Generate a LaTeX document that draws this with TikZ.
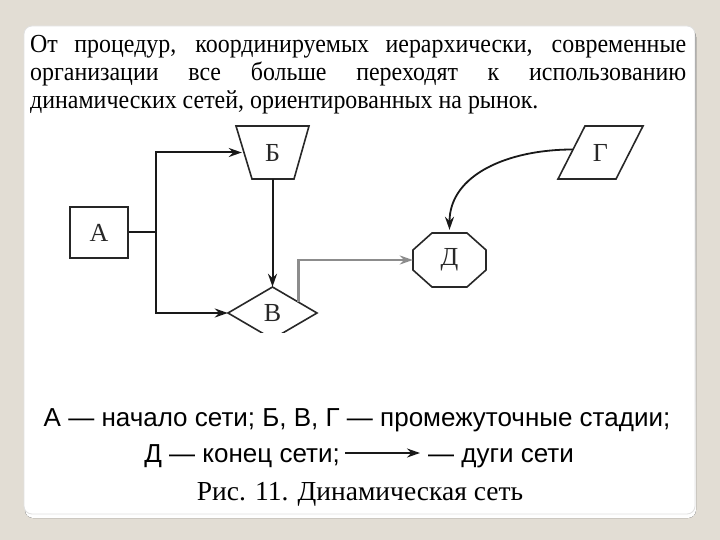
\documentclass[tikz,border=0pt]{standalone}
\usepackage{fontspec}
\setmainfont{Liberation Serif}
\setsansfont{Liberation Sans}
\newfontfamily\hdrfont{Liberation Serif}[FakeStretch=0.92]
\usetikzlibrary{arrows.meta,calc}
\definecolor{bgc}{RGB}{226,221,212}
\definecolor{shade}{RGB}{160,155,150}
\definecolor{ink}{RGB}{40,40,40}
\definecolor{glink}{RGB}{140,140,140}
\tikzset{
  arc/.style={line width=2bp, draw=black!90, -{Stealth[length=13bp,width=9bp]}},
  garc/.style={line width=2.5bp, draw=glink, -{Stealth[length=13bp,width=9bp,fill=black!85]}},
  outline/.style={line width=1.6bp, draw=ink},
  lbl/.style={inner sep=0, font=\fontsize{26bp}{26bp}\selectfont, text=ink},
  hdr/.style={anchor=base west, inner sep=0, font=\hdrfont\fontsize{26bp}{28bp}\selectfont},
  leg/.style={inner sep=0, font=\sffamily\fontsize{26bp}{28bp}\selectfont},
}
\begin{document}
\begin{tikzpicture}[x=1bp,y=-1bp]
\useasboundingbox (0,0) rectangle (720,540);
\fill[bgc] (0,0) rectangle (720,540);
\fill[shade, rounded corners=8bp] (25,29) rectangle (696,518);
\fill[white, rounded corners=8bp] (24,26) rectangle (695,514);
\draw[black!12, line width=0.8bp, rounded corners=8bp] (24,26) rectangle (695,514);

% header text
\node[hdr] (t1) at (30,53) {\makebox[656bp][s]{От процедур, координируемых иерархически, современные}};
\node[hdr] (t2) at (30,81) {\makebox[656bp][s]{организации все больше переходят к использованию}};
\node[hdr] (t3) at (30,109) {динамических сетей, ориентированных на рынок.};

% nodes
\node[lbl, draw=black!85, line width=2bp, minimum width=58bp, minimum height=51bp] (A) at (99,232.5) {А};
\node[lbl, minimum width=73bp, minimum height=53bp] (B) at (272.5,152.5) {Б};
\draw[outline] (236,126) -- (309,126) -- (294,179) -- (252,179) -- cycle;
\node[lbl, minimum width=85bp, minimum height=53bp] (G) at (600.5,152.5) {Г};
\draw[outline] (585,126) -- (643,126) -- (616,179) -- (558,179) -- cycle;
\node[lbl, minimum width=89bp, minimum height=52bp] (V) at (272.5,313) {В};
\begin{scope}
\clip (200,280) rectangle (340,332);
\draw[outline] (272.5,287) -- (317,313) -- (272.5,339) -- (228,313) -- cycle;
\end{scope}
\node[lbl, minimum width=73bp, minimum height=54bp] (D) at (449.5,260) {Д};
\draw[outline] (432,233) -- (467,233) -- (486,250) -- (486,270) -- (467,287) -- (432,287) -- (413,270) -- (413,250) -- cycle;

% connectors
\draw[line width=2bp, black!90] (A.east) -- ++(27,0) coordinate (j);
\draw[arc] (j) |- ([xshift=6bp]B.west);
\draw[arc] (j) |- (V.west);
\draw[arc] (B.south) -- (V.north);
\draw[garc] ($(V.north)!0.58!(V.east)$) |- (D.west);
\draw[arc, line width=1.8bp] ($(G.west)+(15,-3)$) .. controls +(-65,0) and +(0,-55) .. ([yshift=3bp]D.north);

% legend
\node[leg, anchor=base] (L1) at (357,426) {А — начало сети; Б, В, Г — промежуточные стадии;};
\node[leg, anchor=base east] (L2a) at (340,462) {Д — конец сети;};
\node[leg, anchor=base west] (L2b) at (428,462) {— дуги сети};
\draw[arc] ($(L2a.base east)+(5,-9)$) -- ($(L2b.base west)+(-8,-9)$);
\node[anchor=base, inner sep=0, font=\fontsize{27.5bp}{30bp}\selectfont] (cap) at (360,500) {Рис. 11. Динамическая сеть};
\end{tikzpicture}
\end{document}
